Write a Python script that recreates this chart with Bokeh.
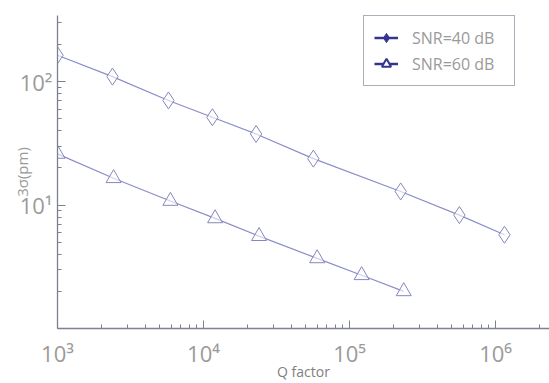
import numpy as np
from bokeh.plotting import figure
from bokeh.models import (ColumnDataSource, Legend, LegendItem,
                          CustomJSTickFormatter, FixedTicker)
from bokeh.embed import file_html
from bokeh.resources import INLINE

# ---- data ----
q_40 = [1000, 2380, 5750, 11500, 22900, 56500, 224000, 565000, 1150000]
sigma_40 = [164, 110, 70.5, 51.5, 37.7, 23.8, 12.9, 8.3, 5.75]
q_60 = [1000, 2420, 5930, 12000, 24000, 60000, 121000, 235000]
sigma_60 = [26, 16.5, 10.8, 7.8, 5.6, 3.7, 2.7, 2.0]
series_names = ["SNR=40 dB", "SNR=60 dB"]
x_ticks = [1e3, 1e4, 1e5, 1e6]
y_ticks = [1e1, 1e2]

LINE = "#8b8dc9"
MARK = "#8587bd"
LEG = "#35358f"
GREY = "#9a9a9a"
AX = "#7c8090"
FONT = "Open Sans"

p = figure(width=549, height=383, x_axis_type="log", y_axis_type="log",
           x_range=(1000, 2.34e6), y_range=(1, 344),
           output_backend="svg", toolbar_location=None,
           min_border_left=57, min_border_right=0, min_border_top=15,
           min_border_bottom=51)
p.outline_line_color = None
p.grid.visible = False
p.background_fill_color = "white"

s40 = ColumnDataSource(dict(x=q_40, y=sigma_40))
s60 = ColumnDataSource(dict(x=q_60, y=sigma_60))

p.line("x", "y", source=s40, line_color=LINE, line_width=1.2)
p.scatter("x", "y", source=s40, marker="diamond", size=17, fill_color="white",
          fill_alpha=0.6, line_color=MARK, line_width=1)
p.line("x", "y", source=s60, line_color=LINE, line_width=1.2)
p.scatter("x", "y", source=s60, marker="triangle", size=15, fill_color="white",
          fill_alpha=0.6, line_color=MARK, line_width=1)

# legend-only renderers (sources holding a single NaN, so nothing is drawn in the plot)
e1 = ColumnDataSource(dict(x=np.array([np.nan]), y=np.array([np.nan])))
e2 = ColumnDataSource(dict(x=np.array([np.nan]), y=np.array([np.nan])))
l1 = p.line("x", "y", source=e1, line_color=LEG, line_width=2.5)
m1 = p.scatter("x", "y", source=e1, marker="diamond", size=10, fill_color=LEG,
               line_color=LEG)
l2 = p.line("x", "y", source=e2, line_color=LEG, line_width=2.5)
m2 = p.scatter("x", "y", source=e2, marker="triangle", size=10, fill_color="white",
               line_color=LEG, line_width=2)

legend = Legend(items=[LegendItem(label=series_names[0], renderers=[l1, m1]),
                       LegendItem(label=series_names[1], renderers=[l2, m2])],
                location=(306, 242))
legend.border_line_color = "#5a5f70"
legend.border_line_width = 1
legend.background_fill_alpha = 1
legend.label_text_font = FONT
legend.label_text_font_size = "16px"
legend.label_text_color = GREY
legend.glyph_width = 24
legend.glyph_height = 23
legend.label_height = 23
legend.label_width = 92
legend.label_standoff = 14
legend.padding = 10
legend.spacing = 3
legend.margin = 0
p.add_layout(legend)

sup = CustomJSTickFormatter(code="""
const s = {'0':'\u2070','1':'\u00b9','2':'\u00b2','3':'\u00b3','4':'\u2074','5':'\u2075','6':'\u2076','7':'\u2077','8':'\u2078','9':'\u2079','-':'\u207b'};
const e = Math.round(Math.log10(tick));
return '10' + String(e).split('').map(c => s[c]).join('');
""")

for ax in (p.xaxis[0], p.yaxis[0]):
    ax.formatter = sup
    ax.axis_line_color = AX
    ax.axis_line_width = 1.3
    ax.major_tick_line_color = AX
    ax.minor_tick_line_color = AX
    ax.major_tick_in = 8
    ax.major_tick_out = 0
    ax.minor_tick_in = 4
    ax.minor_tick_out = 0
    ax.major_label_text_font = FONT
    ax.major_label_text_font_size = "22px"
    ax.major_label_text_color = GREY
    ax.axis_label_text_font = FONT
    ax.axis_label_text_font_style = "normal"

p.xaxis[0].ticker = FixedTicker(ticks=x_ticks,
    minor_ticks=[m * 10**k for k in range(3, 7) for m in range(2, 10)])
p.yaxis[0].ticker = FixedTicker(ticks=y_ticks,
    minor_ticks=[m * 10**k for k in range(0, 3) for m in range(2, 10)])
p.xaxis[0].major_label_standoff = 9
p.yaxis[0].major_label_standoff = 5

p.yaxis[0].axis_label = "3σ(pm)"
p.yaxis[0].axis_label_standoff = -15
p.yaxis[0].axis_label_text_font_size = "15px"
p.yaxis[0].axis_label_text_color = GREY

p.xaxis[0].axis_label = "Q factor"
p.xaxis[0].axis_label_standoff = -9
p.xaxis[0].axis_label_text_font_size = "14px"
p.xaxis[0].axis_label_text_color = "#808080"

open("out.html", "w").write(file_html(p, INLINE))
